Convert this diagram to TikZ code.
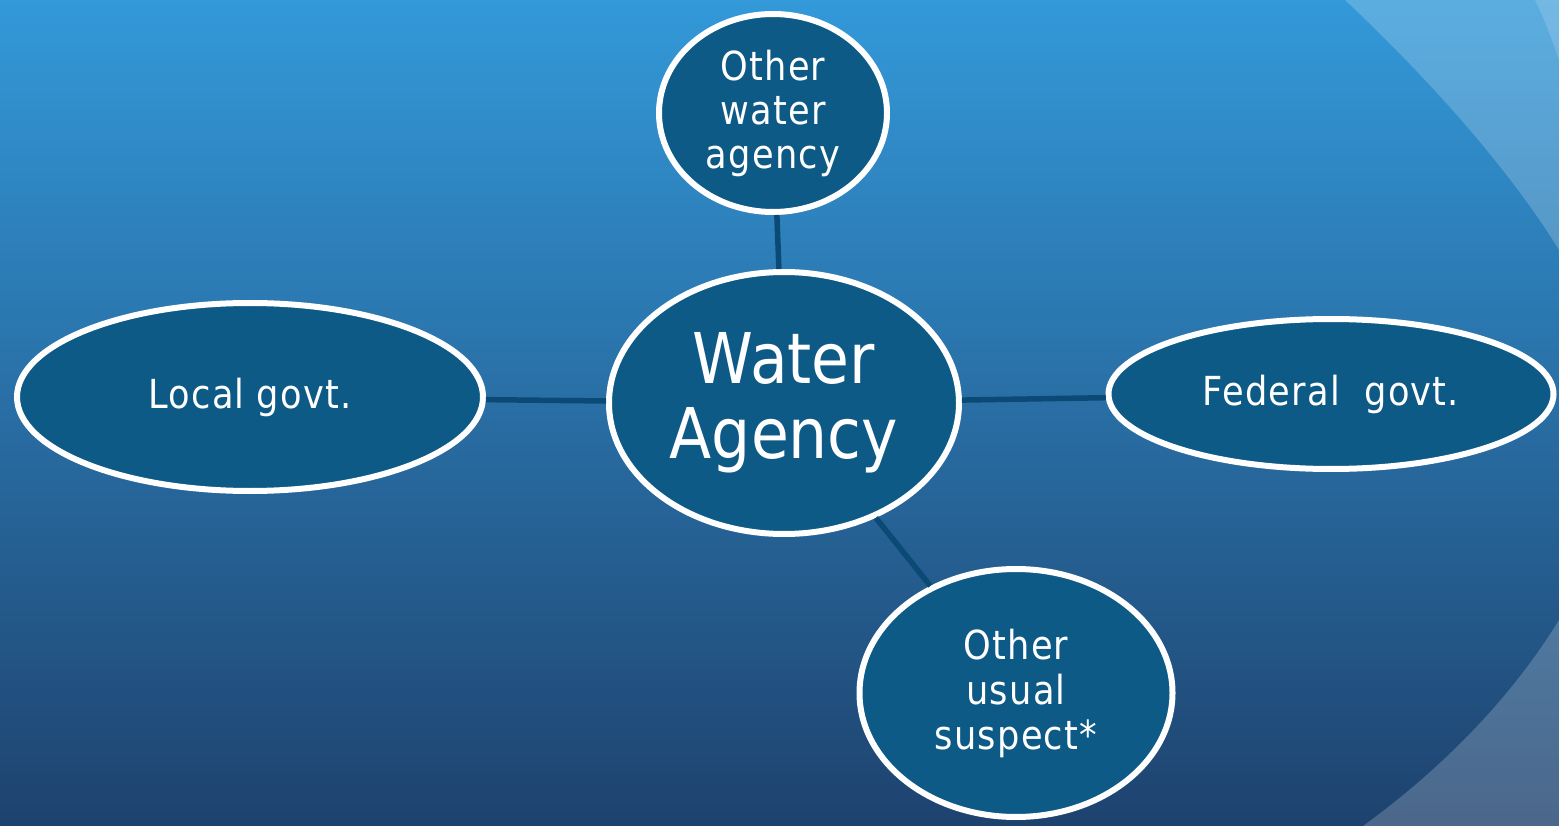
\documentclass[tikz,border=0pt]{standalone}
\usepackage{fontspec}
\setmainfont{DejaVu Sans}[FakeStretch=0.88]
\newfontfamily\smallfont{DejaVu Sans}[FakeStretch=0.88,LetterSpace=3]
\usetikzlibrary{shapes.geometric}
\definecolor{bgtop}{HTML}{3399D9}
\definecolor{bgbot}{HTML}{1E426E}
\definecolor{nodefill}{HTML}{0E5A86}
\definecolor{linkcol}{HTML}{0B4A75}
\begin{document}
\begin{tikzpicture}[x=1pt,y=-1pt,
  bubble/.style={ellipse, draw=white, line width=6pt, fill=nodefill, text=white,
    inner sep=0pt, align=center, font=\smallfont\fontsize{40}{44}\selectfont},
  link/.style={draw=linkcol, line width=5.5pt}]
\shade[top color=bgtop,bottom color=bgbot] (0,0) rectangle (1559,826);
\useasboundingbox (0,0) rectangle (1559,826);
% background swooshes
\fill[white,opacity=0.2] (1345,0) .. controls (1430,80) and (1510,170) .. (1559,250) -- (1559,0) -- cycle;
\fill[white,opacity=0.15] (1535,0) .. controls (1545,20) and (1552,40) .. (1559,60) -- (1559,0) -- cycle;
\fill[white,opacity=0.2] (1363,826) .. controls (1440,770) and (1510,700) .. (1559,620) -- (1559,826) -- cycle;
% nodes
\node[bubble, minimum width=350, minimum height=262, font=\rmfamily\fontsize{70}{75}\selectfont] (wa) at (784,403) {Water\\Agency};
\node[bubble, minimum width=228, minimum height=198] (owa) at (773,113) {Other\\water\\agency};
\node[bubble, minimum width=466, minimum height=188] (lg) at (250,397) {Local govt.};
\node[bubble, minimum width=445, minimum height=150] (fg) at (1331,394) {Federal\ \ govt.};
\node[bubble, minimum width=313, minimum height=248, font=\smallfont\fontsize{40}{45}\selectfont] (ous) at (1016,693) {Other\\usual\\suspect*};
% connectors
\draw[link] (owa) -- (wa);
\draw[link] (lg) -- (wa);
\draw[link] (wa) -- (fg);
\draw[link] (wa) -- (ous);
\end{tikzpicture}
\end{document}
